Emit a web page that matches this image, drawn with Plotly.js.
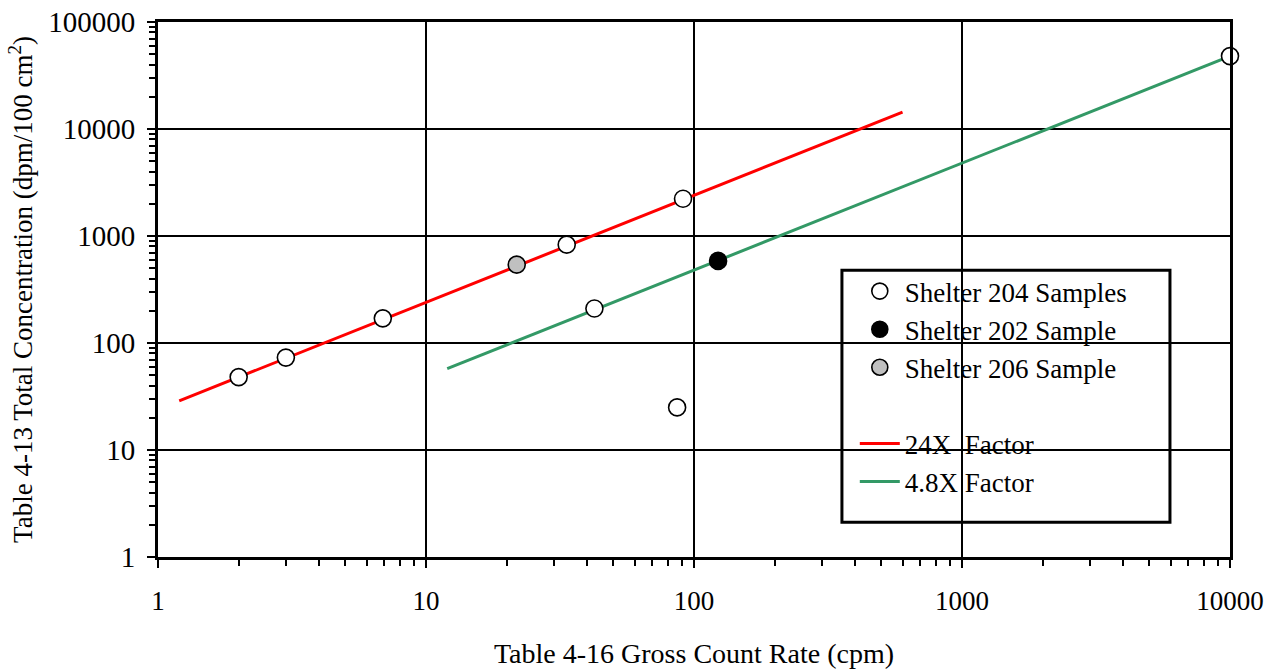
<!DOCTYPE html>
<html>
<head>
<meta charset="utf-8">
<script src="https://cdn.plot.ly/plotly-3.0.1.min.js"></script>
<style>html,body{margin:0;padding:0;background:#fff;}#chart{width:1270px;height:669px;}</style>
</head>
<body>
<div id="chart"></div>
<script>
// Data
const s204X = [2, 3, 6.9, 33.5, 91, 42.5, 86.5, 10000];
const s204Y = [48, 73, 170, 830, 2230, 210, 25, 48000];
const s202X = [123];
const s202Y = [585];
const s206X = [21.8];
const s206Y = [540];
const f24X = [1.2, 600];
const f24Y = [28.8, 14400];
const f48X = [12, 10000];
const f48Y = [57.6, 48000];
const xTicks = [1, 10, 100, 1000, 10000];
const yTicks = [1, 10, 100, 1000, 10000, 100000];

const font = 'Liberation Serif';
const mk = (fill) => ({symbol: 'circle', size: 17, color: fill, line: {color: '#000', width: 1.6}});

const traces = [
  {x: f24X, y: f24Y, mode: 'lines', name: '24X  Factor', line: {color: '#ff0000', width: 3}, legendgroup: 'b', legendrank: 4},
  {x: f48X, y: f48Y, mode: 'lines', name: '4.8X Factor', line: {color: '#339966', width: 3}, legendgroup: 'b', legendrank: 5},
  {x: s204X, y: s204Y, mode: 'markers', name: 'Shelter 204 Samples', marker: mk('#ffffff'), cliponaxis: false, legendgroup: 'a', legendrank: 1},
  {x: s202X, y: s202Y, mode: 'markers', name: 'Shelter 202 Sample', marker: mk('#000000'), cliponaxis: false, legendgroup: 'a', legendrank: 2},
  {x: s206X, y: s206Y, mode: 'markers', name: 'Shelter 206 Sample', marker: mk('#c0c0c0'), cliponaxis: false, legendgroup: 'a', legendrank: 3}
];

const layout = {
  width: 1270, height: 669,
  margin: {l: 158, r: 40, t: 22, b: 112},
  paper_bgcolor: '#fff', plot_bgcolor: '#fff',
  font: {family: font, size: 27, color: '#000'},
  showlegend: true,
  legend: {
    x: 0.650, y: 0.542, xanchor: 'left', yanchor: 'top',
    bgcolor: 'rgba(0,0,0,0)', borderwidth: 0,
    font: {family: font, size: 27, color: '#000'},
    traceorder: 'grouped', tracegroupgap: 38, itemwidth: 40
  },
  xaxis: {
    type: 'log', range: [0, 4],
    tickvals: xTicks, ticktext: xTicks.map(String),
    ticks: 'outside', ticklen: 8, tickwidth: 2, tickcolor: '#000',
    ticklabelstandoff: 10,
    showline: true, linewidth: 3, linecolor: '#000', mirror: true,
    showgrid: true, gridcolor: '#000', gridwidth: 1.3,
    zeroline: false,
    tickfont: {family: font, size: 27, color: '#000'},
    minor: {ticks: 'outside', ticklen: 6, tickwidth: 2, tickcolor: '#000', showgrid: false, dtick: 'D1'},
    title: {text: 'Table 4-16 Gross Count Rate (cpm)', font: {family: font, size: 28, color: '#000'}, standoff: 28}
  },
  yaxis: {
    type: 'log', range: [0, 5],
    tickvals: yTicks, ticktext: yTicks.map(String),
    ticks: 'outside', ticklen: 8, tickwidth: 2, tickcolor: '#000',
    ticklabelstandoff: 6,
    showline: true, linewidth: 3, linecolor: '#000', mirror: true,
    showgrid: true, gridcolor: '#000', gridwidth: 1.3,
    zeroline: false,
    tickfont: {family: font, size: 29, color: '#000'},
    minor: {ticks: 'outside', ticklen: 6, tickwidth: 2, tickcolor: '#000', showgrid: false, dtick: 'D1'},
    title: {text: 'Table 4-13 Total Concentration (dpm/100 cm<sup>2</sup>)', font: {family: font, size: 27, color: '#000'}, standoff: 8}
  },
  shapes: [
    {type: 'rect', xref: 'paper', yref: 'paper', x0: 0.638, x1: 0.944, y0: 0.065, y1: 0.536,
     line: {color: '#000', width: 3}, fillcolor: '#fff', layer: 'between'}
  ]
};

Plotly.newPlot('chart', traces, layout, {displayModeBar: false, staticPlot: true});
</script>
</body>
</html>
